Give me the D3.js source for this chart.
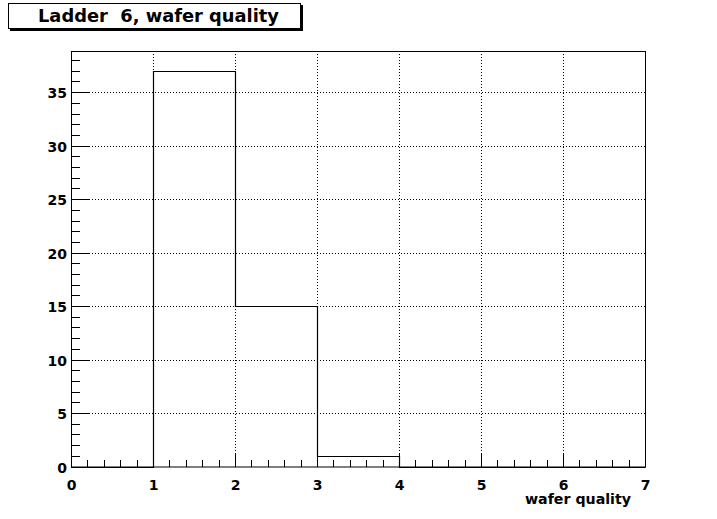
<!DOCTYPE html>
<html><head><meta charset="utf-8">
<script src="https://cdn.jsdelivr.net/npm/d3@7"></script>
<style>
html,body{margin:0;padding:0;background:#fff;}
text{font-family:"DejaVu Sans",sans-serif;font-weight:bold;fill:#000;}
</style></head>
<body>
<svg id="c" width="717" height="519"></svg>
<script>
const binEdges = [0,1,2,3,4,5,6,7];
const counts = [0,37,15,1,0,0,0];
const xTicks = [0,1,2,3,4,5,6,7];
const yTicks = [0,5,10,15,20,25,30,35];
const title = "Ladder  6, wafer quality";
const xTitle = "wafer quality";

const svg = d3.select("#c");
const L = 71, R = 645, T = 51, B = 466.5;
const yMax = d3.max(counts) * 1.05;
const x = d3.scaleLinear().domain([0,7]).range([L,R]);
const y = d3.scaleLinear().domain([0,yMax]).range([B,T]);

svg.append("rect").attr("width",717).attr("height",519).attr("fill","#fff");

// grid
const g = svg.append("g").attr("stroke","#000").attr("stroke-width",1).attr("stroke-dasharray","1,2").attr("shape-rendering","crispEdges");
xTicks.slice(1,-1).forEach(v=>{
  g.append("line").attr("x1",Math.round(x(v))+0.5).attr("x2",Math.round(x(v))+0.5).attr("y1",T).attr("y2",B);
});
yTicks.slice(1).forEach(v=>{
  g.append("line").attr("x1",L).attr("x2",R).attr("y1",Math.round(y(v))+0.5).attr("y2",Math.round(y(v))+0.5);
});

// histogram outline
let pts = [];
pts.push([binEdges[0],0]);
counts.forEach((c,i)=>{ pts.push([binEdges[i],c]); pts.push([binEdges[i+1],c]); });
pts.push([binEdges[binEdges.length-1],0]);
const line = d3.line().x(d=>Math.round(x(d[0]))+0.5).y(d=>Math.round(y(d[1]))+0.5).curve(d3.curveLinear);
svg.append("path").attr("d",line(pts)).attr("fill","none").attr("stroke","#000").attr("stroke-width",1.2);

// frame
svg.append("rect").attr("x",L+0.5).attr("y",T+0.5).attr("width",R-L).attr("height",B-T)
  .attr("fill","none").attr("stroke","#000").attr("stroke-width",1);

// ticks
const minorX = d3.range(0,35+1).map(i=>i*0.2);
const tk = svg.append("g").attr("stroke","#000").attr("stroke-width",1).attr("shape-rendering","crispEdges");
minorX.forEach((v,i)=>{
  const len = (i%5===0)?14:7;
  tk.append("line").attr("x1",Math.round(x(v))+0.5).attr("x2",Math.round(x(v))+0.5).attr("y1",B).attr("y2",B-len);
});
const minorY = d3.range(0,38+1);
minorY.forEach(v=>{
  if (y(v) < T) return;
  const len = (v%5===0)?18:9;
  tk.append("line").attr("y1",Math.round(y(v))+0.5).attr("y2",Math.round(y(v))+0.5).attr("x1",L).attr("x2",L+len);
});

// x tick labels via axis
const xAxisG = svg.append("g").attr("transform",`translate(0,${B})`)
  .call(d3.axisBottom(x).tickValues(xTicks).tickSize(0).tickPadding(0).tickFormat(d3.format("d")));
xAxisG.select(".domain").remove();
xAxisG.selectAll("text").attr("dy",null).attr("y",23).attr("font-size",14).attr("font-family","DejaVu Sans").attr("font-weight","bold");

const yAxisG = svg.append("g").attr("transform",`translate(${L},0)`)
  .call(d3.axisLeft(y).tickValues(yTicks).tickSize(0).tickPadding(0).tickFormat(d3.format("d")));
yAxisG.select(".domain").remove();
yAxisG.selectAll("text").attr("dy",null).attr("x",-4).attr("y",5.5).attr("font-size",14).attr("font-family","DejaVu Sans").attr("font-weight","bold");

// axis title
svg.append("text").attr("x",631).attr("y",504).attr("text-anchor","end").attr("font-size",14)
  .attr("textLength",106).attr("lengthAdjust","spacingAndGlyphs").text(xTitle);

// title box with shadow
svg.append("rect").attr("x",10).attr("y",5).attr("width",293).attr("height",26).attr("fill","#000");
svg.append("rect").attr("x",8.5).attr("y",3.5).attr("width",292).attr("height",25).attr("fill","#fff").attr("stroke","#000").attr("stroke-width",1);
svg.append("text").attr("x",38).attr("y",22).attr("font-size",17).attr("xml:space","preserve").style("white-space","pre")
  .attr("textLength",241).attr("lengthAdjust","spacingAndGlyphs").text(title);
</script>
</body></html>
